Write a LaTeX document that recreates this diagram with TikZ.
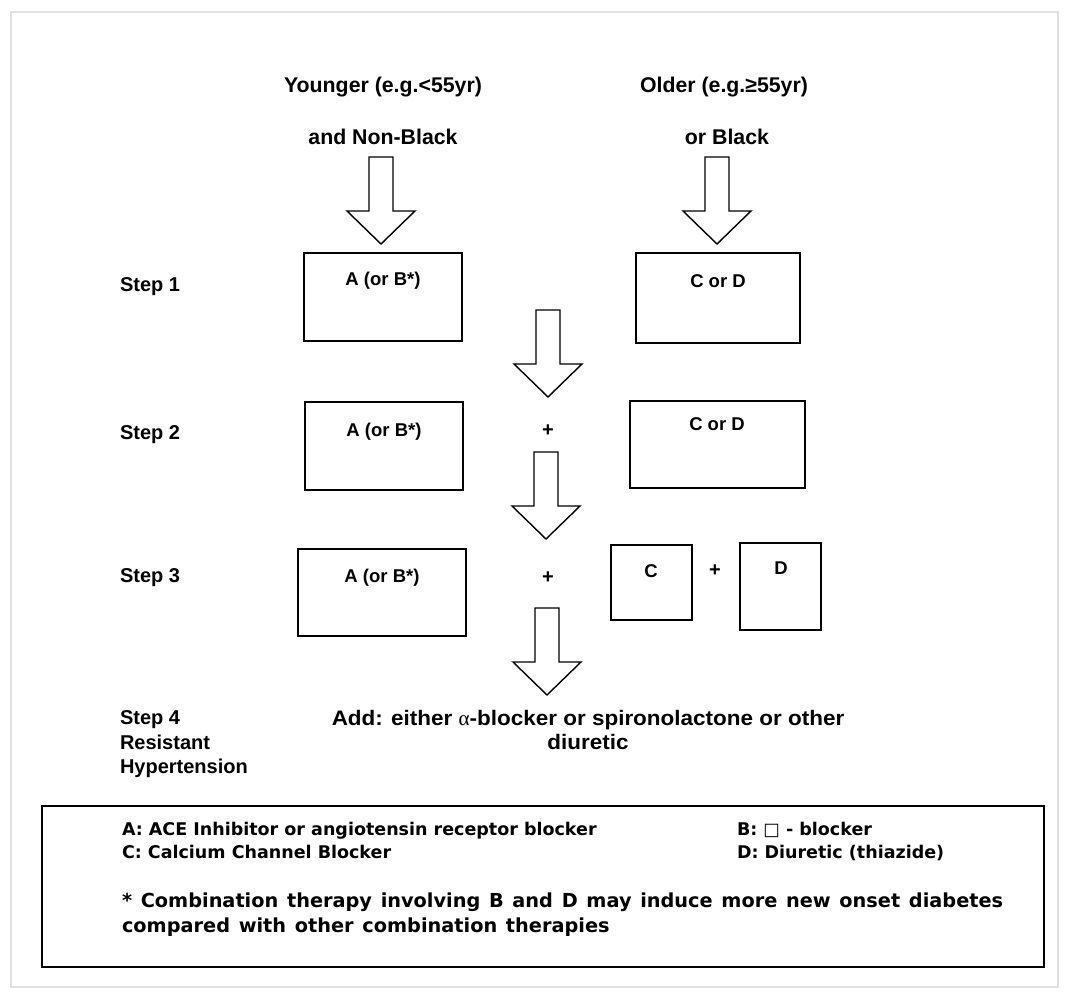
\documentclass[tikz,border=0pt]{standalone}
\usepackage{fontspec}
\setmainfont{Liberation Sans}
\newfontfamily\widefont{Liberation Sans}[FakeStretch=1.07]
\newfontfamily\legendfont{DejaVu Sans}
\newfontfamily\greekfont{Liberation Serif}
\newcommand\notespacing{\spaceskip=8.7pt\relax}
\begin{document}
\begin{tikzpicture}[x=1pt,y=-1pt,
  every node/.style={inner sep=0pt, outer sep=0pt},
  lbl/.style={font=\fontsize{20}{24}\selectfont\bfseries},
  head/.style={font=\fontsize{21.3}{24}\selectfont\bfseries},
  boxtxt/.style={font=\fontsize{18.5}{22}\selectfont\bfseries},
  legend/.style={font=\legendfont\fontsize{17.5}{21}\selectfont\bfseries, anchor=base west},
  note/.style={font=\legendfont\fontsize{19.3}{23}\selectfont\bfseries, anchor=base west},
  stepbox/.style={draw=black, line width=1.4pt},
  pics/downarrow/.style={code={
    \draw[line width=1.4pt, line join=miter, fill=white]
      (-12,0) -- (12,0) -- (12,54) -- (34,54) -- (0,87) -- (-34,54) -- (-12,54) -- cycle;
  }}
]
\useasboundingbox (0,0) rectangle (1068,993);
% faint outer frame
\draw[black!12, line width=1.2pt] (11,12) rectangle (1058,987);

% column headings
\node[head] (young) at (383,87) {Younger (e.g.<55yr)};
\node[head] (nonblack) at (383,137) {and Non-Black};
\node[head] (old) at (724,87) {Older (e.g.≥55yr)};
\node[head] (black) at (727,137) {or Black};

% step labels
\node[lbl, anchor=west] (s1) at (120,287) {Step 1};
\node[lbl, anchor=west] (s2) at (120,435) {Step 2};
\node[lbl, anchor=west] (s3) at (120,578) {Step 3};
\node[lbl, anchor=north west, align=left, font=\fontsize{20}{24.5}\selectfont\bfseries] (s4) at (120,711) {Step 4\\Resistant\\Hypertension};

% step 1 boxes
\draw[stepbox] (304,253) rectangle (462,341);
\node[boxtxt] (a1) at (383,281) {A (or B*)};
\draw[stepbox] (636,253) rectangle (800,343);
\node[boxtxt] (cd1) at (718,281) {C or D};

% step 2 boxes
\draw[stepbox] (305,402) rectangle (463,490);
\node[boxtxt] (a2) at (384,432) {A (or B*)};
\node[lbl] (p2) at (548,431) {+};
\draw[stepbox] (630,401) rectangle (805,488);
\node[boxtxt] (cd2) at (717,424) {C or D};

% step 3 boxes
\draw[stepbox] (298,549) rectangle (466,636);
\node[boxtxt] (a3) at (382,578) {A (or B*)};
\node[lbl] (p3) at (548,578) {+};
\draw[stepbox] (611,545) rectangle (692,620);
\node[boxtxt] (c3) at (651,571) {C};
\node[lbl] (p3b) at (715,571) {+};
\draw[stepbox] (740,543) rectangle (821,630);
\node[boxtxt] (d3) at (781,568) {D};

% step 4 text
\node[align=center, font=\widefont\fontsize{21}{24}\selectfont\bfseries] (add) at (588,730)
  {Add: either {\greekfont\mdseries α}-blocker or spironolactone or other\\diuretic};

% block arrows between the stages
\coordinate (arrL) at (381,157);
\coordinate (arrR) at (717,157);
\coordinate (arr2) at (548,310);
\coordinate (arr3) at (546,452);
\coordinate (arr4) at (547,608);
\pic at (arrL) {downarrow};
\pic at (arrR) {downarrow};
\pic at (arr2) {downarrow};
\pic at (arr3) {downarrow};
\pic at (arr4) {downarrow};

% legend
\draw[line width=1.4pt] (42,806) rectangle (1044,967);
\node[legend] (la) at (122,835) {A: ACE Inhibitor or angiotensin receptor blocker};
\node[legend] (lc) at (122,858) {C: Calcium Channel Blocker};
\node[legend] (lb) at (737,835) {B: {\mdseries □} - blocker};
\node[legend] (ld) at (737,858) {D: Diuretic (thiazide)};
\node[note] (ln1) at (122,907) {\notespacing * Combination therapy involving B and D may induce more new onset diabetes};
\node[note] (ln2) at (122,932) {\notespacing compared with other combination therapies};
\end{tikzpicture}
\end{document}
